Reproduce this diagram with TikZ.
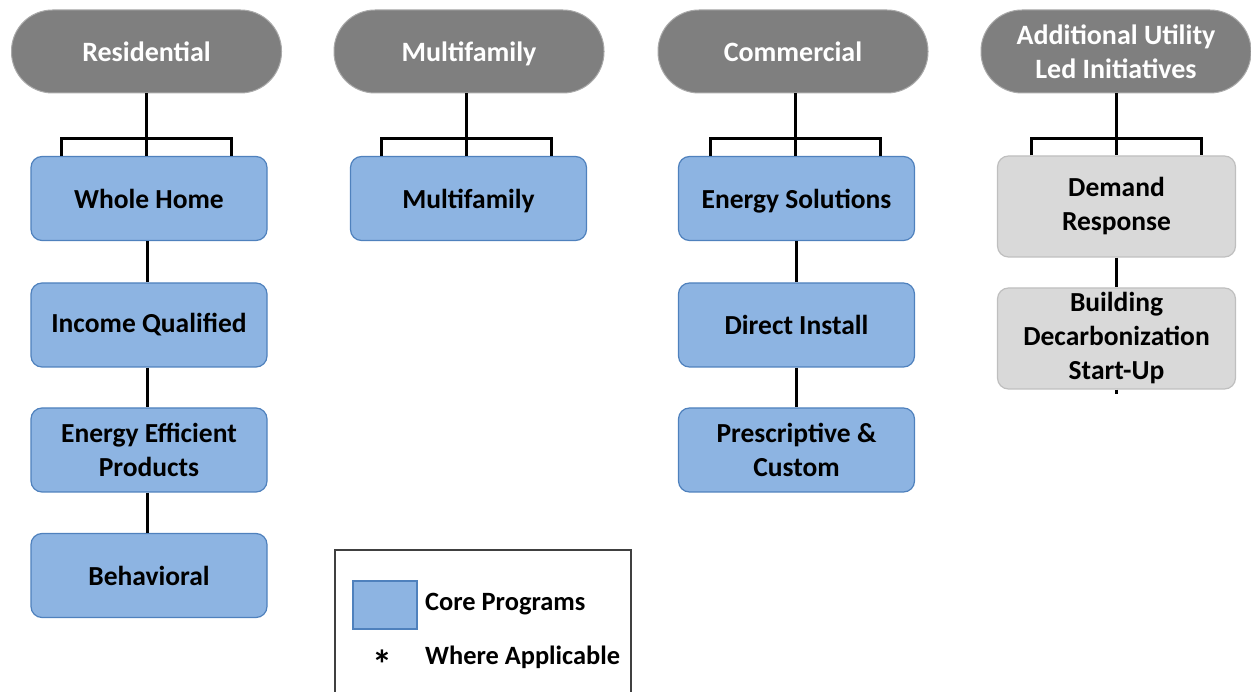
\documentclass[tikz,border=0pt]{standalone}
\usepackage{fontspec}
\setmainfont{Carlito}
\definecolor{hdrgray}{RGB}{127,127,127}
\definecolor{hdredge}{RGB}{170,170,170}
\definecolor{coreblue}{RGB}{141,180,226}
\definecolor{coreedge}{RGB}{79,129,189}
\definecolor{addfill}{RGB}{217,217,217}
\definecolor{addedge}{RGB}{191,191,191}
\definecolor{legedge}{RGB}{64,64,64}
\tikzset{
  hdr/.style={draw=hdredge, line width=1pt, fill=hdrgray, rounded corners=41pt,
    minimum width=270pt, minimum height=83pt, inner sep=0pt, text=white,
    font=\bfseries\fontsize{28}{34}\selectfont, align=center},
  corebox/.style={draw=coreedge, line width=1.2pt, fill=coreblue, rounded corners=11pt,
    minimum width=236pt, minimum height=84pt, inner sep=0pt,
    font=\bfseries\fontsize{27.5}{34}\selectfont, align=center},
  addbox/.style={draw=addedge, line width=1.2pt, fill=addfill, rounded corners=11pt,
    minimum width=238pt, minimum height=101pt, inner sep=0pt,
    font=\bfseries\fontsize{27.5}{34}\selectfont, align=center},
  nodepth/.style={text depth=0pt},
  conn/.style={line width=3pt, black},
  legtext/.style={anchor=west, inner sep=0pt, font=\bfseries\fontsize{26.4}{30}\selectfont}
}
\begin{document}
\begin{tikzpicture}[x=1pt, y=-1pt]
\useasboundingbox (0,0) rectangle (1251,692);
% headers
\node[hdr] (res) at (146.5,51.5) {Residential};
\node[hdr, nodepth] (mf)  at (469,51.5) {Multifamily};
\node[hdr] (com) at (793,51.5) {Commercial};
\node[hdr] (add) at (1116,51.5) {Additional Utility\\Led Initiatives};
% residential column
\node[corebox] (wh)  at (149,198.5) {Whole Home};
\node[corebox] (iq)  at (149,325) {Income Qualified};
\node[corebox] (eep) at (149,450) {Energy Efficient\\Products};
\node[corebox] (beh) at (149,575.5) {Behavioral};
% multifamily
\node[corebox, nodepth] (mfb) at (468.5,198.5) {Multifamily};
% commercial
\node[corebox, nodepth] (es) at (796.5,198.5) {Energy Solutions};
\node[corebox] (di) at (796.5,325) {Direct Install};
\node[corebox] (pc) at (796.5,450) {Prescriptive \&\\Custom};
% additional
\node[addbox] (dr) at (1116.5,206.5) {Demand\\Response};
\node[addbox] (bd) at (1116.5,338.5) {Building\\Decarbonization\\Start-Up};
\coordinate (bdstub) at (1116.5,394);
% connectors: header to first box with bracket
\foreach \h/\b/\cx in {res/wh/146, mf/mfb/466, com/es/795.5, add/dr/1116.5}{
  \draw[conn] (\h.south -| \cx,0) -- (\b.north -| \cx,0);
  \draw[conn] ([xshift=-85pt]\b.north -| \cx,0) -- ++(0,-17) -- ++(170,0) -- ++(0,17);
}
% vertical chains
\draw[conn] (wh.south -| 147,0) -- (iq.north -| 147,0);
\draw[conn] (iq.south -| 147,0) -- (eep.north -| 147,0);
\draw[conn] (eep.south -| 147,0) -- (beh.north -| 147,0);
\draw[conn] (es.south -| 796.5,0) -- (di.north -| 796.5,0);
\draw[conn] (di.south -| 796.5,0) -- (pc.north -| 796.5,0);
\draw[conn] (dr.south) -- (bd.north);
\draw[conn] (bd.south) -- (bdstub);
% legend
\node[draw=legedge, line width=1.2pt, minimum width=296pt, minimum height=150pt, inner sep=0pt] (leg) at (483,625) {};
\node[draw=coreedge, line width=1.2pt, fill=coreblue, minimum width=64pt, minimum height=48pt, inner sep=0pt] (legsq) at (385,605) {};
\node[legtext] (legcore) at (425,604) {Core Programs};
\node[inner sep=0pt, font=\bfseries\fontsize{40}{40}\selectfont] (legstar) at (382.5,664) {*};
\node[legtext] (legwhere) at (425,657) {Where Applicable};
\end{tikzpicture}
\end{document}
